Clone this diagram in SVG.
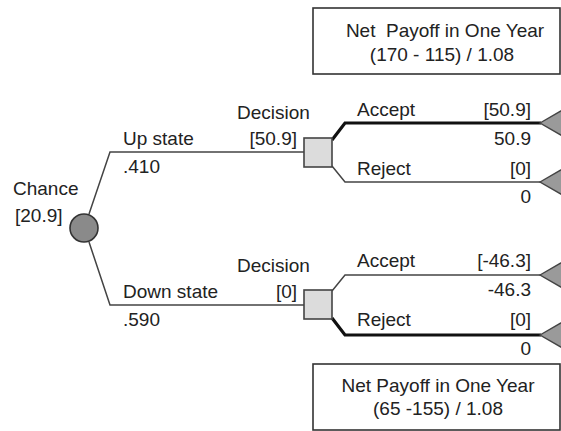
<svg xmlns="http://www.w3.org/2000/svg" width="561" height="431" viewBox="0 0 561 431">
<style>
text{font-family:"Liberation Sans",Arial,sans-serif;font-size:19px;fill:#222}
.r{text-anchor:end}
.m{text-anchor:middle}
.thin{fill:none;stroke:#444;stroke-width:1.5}
.thick{fill:none;stroke:#111;stroke-width:3.2}
.box{fill:#fff;stroke:#333;stroke-width:1.6}
.sq{fill:#dcdcdc;stroke:#444;stroke-width:1.6}
.tri{fill:#9a9a9a;stroke:#444;stroke-width:1.4}
</style>
<rect width="561" height="431" fill="#fff"/>
<g id="connectors">
<path class="thin" d="M89,214 L110,152 L304,152"/>
<path class="thin" d="M89,242 L110,305 L304,305"/>
<path class="thick" d="M332,140 L345,123 L541,123"/>
<path class="thin" d="M332,166 L345,182 L541,182"/>
<path class="thin" d="M332,291 L345,275 L541,275"/>
<path class="thick" d="M332,318 L345,335 L541,335"/>
</g>
<g id="chance">
<circle cx="84" cy="228" r="14" fill="#8a8a8a" stroke="#333" stroke-width="1.6"/>
<text x="13" y="195">Chance</text>
<text x="15" y="222">[20.9]</text>
</g>
<g id="branch-up">
<text x="123" y="145">Up state</text>
<text x="123" y="173">.410</text>
</g>
<g id="branch-down">
<text x="123" y="298">Down state</text>
<text x="123" y="326">.590</text>
</g>
<g id="decision-up">
<rect class="sq" x="304" y="138" width="28" height="29"/>
<text x="237" y="119">Decision</text>
<text class="r" x="297" y="145">[50.9]</text>
</g>
<g id="decision-down">
<rect class="sq" x="304" y="290" width="28" height="29"/>
<text x="237" y="272">Decision</text>
<text class="r" x="297" y="298">[0]</text>
</g>
<g id="up-accept">
<polygon class="tri" points="540,123 566,108 566,138"/>
<text x="357" y="116">Accept</text>
<text class="r" x="531" y="116">[50.9]</text>
<text class="r" x="531" y="145">50.9</text>
</g>
<g id="up-reject">
<polygon class="tri" points="540,182 566,167 566,197"/>
<text x="357" y="175">Reject</text>
<text class="r" x="531" y="175">[0]</text>
<text class="r" x="531" y="203">0</text>
</g>
<g id="down-accept">
<polygon class="tri" points="540,275 566,260 566,290"/>
<text x="357" y="267">Accept</text>
<text class="r" x="531" y="267">[-46.3]</text>
<text class="r" x="531" y="296">-46.3</text>
</g>
<g id="down-reject">
<polygon class="tri" points="540,335 566,320 566,350"/>
<text x="357" y="326">Reject</text>
<text class="r" x="531" y="326">[0]</text>
<text class="r" x="531" y="355">0</text>
</g>
<g id="note-up">
<rect class="box" x="313" y="8" width="247" height="66"/>
<text class="m" x="445" y="37" style="white-space:pre">Net  Payoff in One Year</text>
<text class="m" x="442" y="61">(170 - 115) / 1.08</text>
</g>
<g id="note-down">
<rect class="box" x="313" y="364" width="247" height="66"/>
<text class="m" x="438" y="392">Net Payoff in One Year</text>
<text class="m" x="438" y="415">(65 -155) / 1.08</text>
</g>
</svg>
